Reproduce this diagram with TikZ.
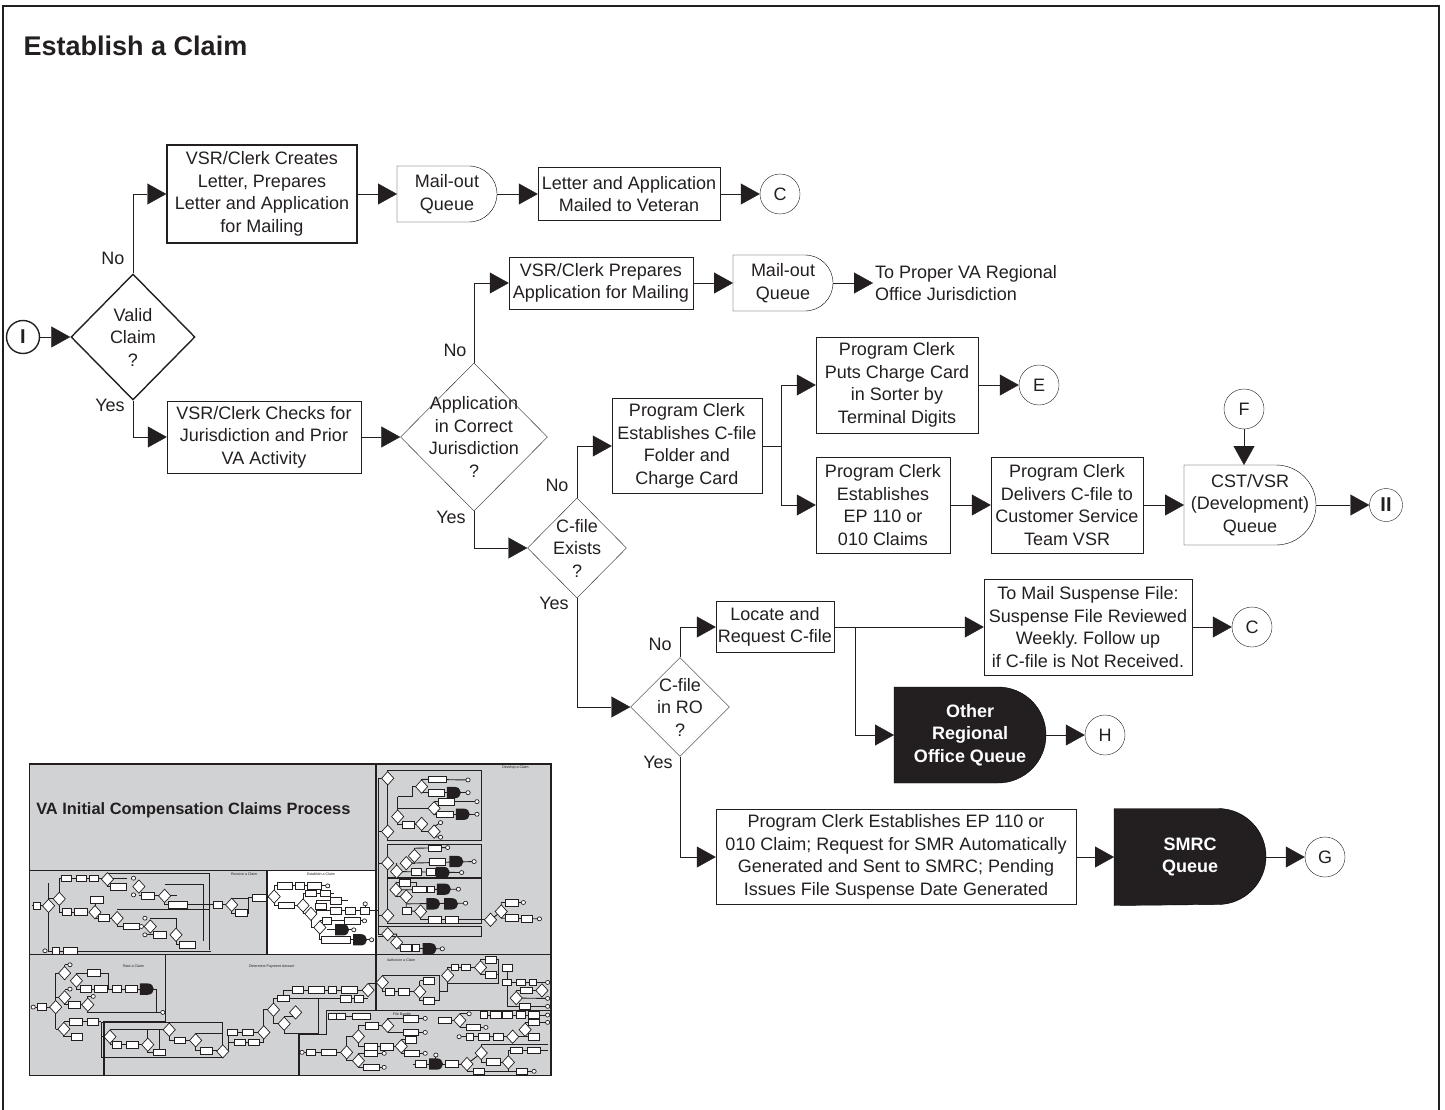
\documentclass[tikz,border=0pt]{standalone}
\usepackage{fontspec}
\setmainfont{Liberation Sans}
\usetikzlibrary{arrows.meta,shapes.geometric}
\definecolor{ink}{RGB}{35,31,32}
\definecolor{panelgray}{RGB}{209,210,212}
\pgfdeclarelayer{bg}
\pgfsetlayers{bg,main}
\frenchspacing

% D-shaped queue behind a named node: #1 fill, #2 node, #3 radius
\newcommand{\queueoutline}[3]{%
  \begin{pgfonlayer}{bg}
    \draw [fill=#1, line join=miter] (#2.north west) -- ([xshift=-#3pt]#2.north east)
      arc [start angle=90, end angle=-90, radius=#3pt] -- (#2.south west) -- cycle;
  \end{pgfonlayer}}
% tiny glyphs for the overview map
\newcommand{\mapbox}[3]{\draw [mappart] ({#1-#3/2},{#2-10}) rectangle ({#1+#3/2},{#2+10});}
\newcommand{\mapdia}[2]{\draw [mappart] ({#1-17},#2) -- (#1,{#2-20}) -- ({#1+17},#2) -- (#1,{#2+20}) -- cycle;}
\newcommand{\mapqueue}[2]{\fill [ink] ({#1-22},{#2-17}) -- (#1,{#2-17}) arc [start angle=-90, end angle=90, x radius=17, y radius=17] -- ({#1-22},{#2+17}) -- cycle;}
\newcommand{\mapdot}[2]{\draw [mappart] (#1,#2) circle [x radius=6, y radius=6];}

\tikzset{
  stepbox/.style={draw, rectangle, align=center, inner sep=0pt},
  decision/.style={draw, diamond, inner sep=0pt},
  connector/.style={draw, circle, inner sep=0pt, minimum size=40pt},
  roman/.style={connector, minimum size=33pt, font=\fontsize{20}{20}\selectfont\bfseries},
  queue/.style={rectangle, align=center, inner sep=0pt, outer sep=0pt},
  darkqueue/.style={queue, text=white, font=\fontsize{18}{22.5}\selectfont\bfseries},
  answer/.style={inner sep=0pt},
  mappart/.style={draw=ink, fill=white, line width=0.7pt},
  mapline/.style={draw=ink, line width=0.9pt},
  mappanel/.style={draw=ink, line width=1.5pt},
  maplabel/.style={font=\fontsize{3.6}{4}\selectfont, inner sep=0pt},
}

\begin{document}
\begin{tikzpicture}[x=1pt, y=-1pt, line width=1.4pt, color=ink,
  font=\fontsize{18}{22.5}\selectfont, >={Triangle[length=19pt,width=21pt]}]
\useasboundingbox (0,0) rectangle (1445,1110);
\draw [line width=1.8pt] (3,1110) -- (3,6) -- (1439,6) -- (1439,1110);
\node [anchor=base west, inner sep=0pt, font=\fontsize{27}{30}\selectfont\bfseries] (title) at (23,56) {Establish a Claim};

% valid claim
\node [roman] (start) at (23,337) {I};
\node [decision, minimum width=124pt, minimum height=126pt] (valid) at (133,337) {};
\node [align=center] at (valid) {Valid\\Claim\\?};
\node [answer] at (113,258) {No};
\node [answer] at (110,405) {Yes};

\node [stepbox, minimum width=190pt, minimum height=98pt] (creates) at (262,194) {VSR/Clerk Creates\\Letter, Prepares\\Letter and Application\\for Mailing};
\node [queue, minimum width=100pt, minimum height=56pt] (mailone) at (447,194) {Mail-out\\Queue};
\queueoutline{none}{mailone}{28}
\node [stepbox, minimum width=182pt, minimum height=53pt] (mailed) at (629,194) {Letter and Application\\Mailed to Veteran};
\node [connector] (cone) at (780,194) {C};

% jurisdiction
\node [stepbox, minimum width=194pt, minimum height=72pt] (checks) at (264,437) {VSR/Clerk Checks for\\Jurisdiction and Prior\\VA Activity};
\node [decision, minimum width=147pt, minimum height=148pt] (juris) at (474,437) {};
\node [align=center] at (juris) {Application\\in Correct\\Jurisdiction\\?};
\node [answer] at (455,350) {No};
\node [answer] at (451,517) {Yes};
\node [stepbox, minimum width=184pt, minimum height=52pt] (prepares) at (601,283) {VSR/Clerk Prepares\\Application for Mailing};
\node [queue, minimum width=100pt, minimum height=56pt] (mailtwo) at (783,283) {Mail-out\\Queue};
\queueoutline{none}{mailtwo}{28}
\node [anchor=west, align=left, inner sep=2pt] (proper) at (873,283) {To Proper VA Regional\\Office Jurisdiction};

% c-file exists
\node [decision, minimum width=99pt, minimum height=100pt] (exists) at (577,548) {};
\node [align=center] at (exists) {C-file\\Exists\\?};
\node [answer] at (557,485) {No};
\node [answer] at (554,603) {Yes};
\node [stepbox, minimum width=150pt, minimum height=95pt] (folder) at (687,446) {Program Clerk\\Establishes C-file\\Folder and\\Charge Card};
\coordinate (fsplit) at (781,446);
\node [stepbox, minimum width=162pt, minimum height=96pt] (sorter) at (897,385) {Program Clerk\\Puts Charge Card\\in Sorter by\\Terminal Digits};
\node [connector] (ce) at (1039,385) {E};
\node [stepbox, minimum width=134pt, minimum height=96pt] (epclaims) at (883,505) {Program Clerk\\Establishes\\EP 110 or\\010 Claims};
\node [stepbox, minimum width=152pt, minimum height=96pt] (delivers) at (1067,505) {Program Clerk\\Delivers C-file to\\Customer Service\\Team VSR};
\node [queue, minimum width=132pt, minimum height=80pt] (devq) at (1250,505) {CST/VSR\\(Development)\\Queue};
\queueoutline{none}{devq}{40}
\node [connector] (cf) at (1244,409) {F};
\node [roman] (finish) at (1386,505) {II};

% c-file in RO
\node [decision, minimum width=99pt, minimum height=99pt] (inro) at (680,707) {};
\node [align=center] at (inro) {C-file\\in RO\\?};
\node [answer] at (660,644) {No};
\node [answer] at (658,762) {Yes};
\node [stepbox, minimum width=118pt, minimum height=51pt] (locate) at (775,627) {Locate and\\Request C-file};
\coordinate (lsplit) at (855,627);
\node [stepbox, minimum width=208pt, minimum height=96pt] (suspense) at (1088,627) {To Mail Suspense File:\\Suspense File Reviewed\\Weekly. Follow up\\if C-file is Not Received.};
\node [connector] (ctwo) at (1252,627) {C};
\node [darkqueue, minimum width=152pt, minimum height=96pt] (otherro) at (970,735) {Other\\Regional\\Office Queue};
\queueoutline{ink}{otherro}{48}
\node [connector] (ch) at (1105,735) {H};
\node [stepbox, minimum width=360pt, minimum height=95pt] (epsmr) at (896,857) {Program Clerk Establishes EP 110 or\\010 Claim; Request for SMR Automatically\\Generated and Sent to SMRC; Pending\\Issues File Suspense Date Generated};
\node [darkqueue, minimum width=152pt, minimum height=97pt] (smrc) at (1190,857) {SMRC\\Queue};
\queueoutline{ink}{smrc}{48}
\node [connector] (cg) at (1325,857) {G};

% connectors
\draw [->] (start) -- (valid);
\draw [->] (valid.north) |- (creates.west);
\draw [->] (valid.south) |- (checks.west);
\draw [->] (creates) -- (mailone);
\draw [->] (mailone) -- (mailed);
\draw [->] (mailed) -- (cone);
\draw [->] (checks) -- (juris);
\draw [->] (juris.north) |- (prepares.west);
\draw [->] (prepares) -- (mailtwo);
\draw [->] (mailtwo) -- (proper);
\draw [->] (juris.south) |- (exists.west);
\draw [->] (exists.north) |- (folder.west);
\draw (folder) -- (fsplit);
\draw [->] (fsplit) |- (sorter.west);
\draw [->] (fsplit) |- (epclaims.west);
\draw [->] (sorter) -- (ce);
\draw [->] (epclaims) -- (delivers);
\draw [->] (delivers) -- (devq);
\draw [->] (cf) -- (cf |- devq.north);
\draw [->] (devq) -- (finish);
\draw [->] (exists.south) |- (inro.west);
\draw [->] (inro.north) |- (locate.west);
\draw [->] (locate) -- (suspense);
\draw [->] (lsplit) |- (otherro.west);
\draw [->] (suspense) -- (ctwo);
\draw [->] (otherro) -- (ch);
\draw [->] (inro.south) |- (epsmr.west);
\draw [->] (epsmr) -- (smrc);
\draw [->] (smrc) -- (cg);

% overview map
\begin{scope}[shift={(20,750)}, xscale=0.357, yscale=0.333]
  \fill [panelgray] (27,42) rectangle (1487,978);
  \fill [white] (692,362) rectangle (997,613);
  \node [anchor=base west, inner sep=0pt, font=\fontsize{16.4}{17}\selectfont\bfseries] (overview) at (45,195) {VA Initial Compensation Claims Process};
  \node [maplabel] at (1388,52) {Develop a Claim};
  \node [maplabel] at (628,374) {Receive a Claim};
  \node [maplabel] at (843,374) {Establish a Claim};
  \node [maplabel] at (318,650) {Rate a Claim};
  \node [maplabel] at (705,650) {Determine Payment Amount};
  \node [maplabel] at (1068,630) {Authorize a Claim};
  \node [maplabel] at (1070,792) {File Bundle};

  % receive
  \draw [mapline] (35,468) -- (80,468);
  \draw [mapline] (80,400) -- (80,605) -- (535,605);
  \draw [mapline] (80,447) -- (110,447);
  \draw [mapline] (110,385) -- (110,487) -- (190,487);
  \draw [mapline] (110,385) -- (300,385);
  \draw [mapline] (245,385) -- (245,410) -- (300,410);
  \draw [mapline] (245,372) -- (530,372) -- (530,600);
  \draw [mapline] (318,410) -- (333,410);
  \draw [mapline] (333,438) -- (440,438);
  \draw [mapline] (405,405) -- (515,405) -- (515,575);
  \draw [mapline] (405,438) -- (405,465) -- (545,465);
  \draw [mapline] (210,450) -- (210,505) -- (272,505);
  \draw [mapline] (272,480) -- (530,480);
  \draw [mapline] (272,505) -- (272,530) -- (340,530);
  \draw [mapline] (365,505) -- (437,505) -- (437,585) -- (470,585);
  \draw [mapline] (350,555) -- (392,555);
  \draw [mapline] (565,465) -- (593,465) -- (593,445) -- (640,445);
  \draw [mapline] (593,465) -- (593,490) -- (640,490) -- (640,443) -- (692,443);
  \foreach \X/\Y/\W in {47/468/22, 130/385/28, 172/385/30, 208/385/25, 275/410/45, 358/438/35, 442/465/55, 130/487/25, 170/487/35, 215/450/35, 235/505/30, 312/530/45, 392/555/35, 470/585/45, 100/603/20, 142/603/40, 555/465/25, 620/490/35, 672/443/40}
    {\mapbox{\X}{\Y}{\W}}
  \foreach \X/\Y in {80/468, 110/447, 245/388, 333/410, 405/438, 210/487, 272/505, 365/530, 437/555, 593/465}
    {\mapdia{\X}{\Y}}
  \foreach \X/\Y in {318/385, 318/435, 340/530, 350/505, 350/555, 70/603}
    {\mapdot{\X}{\Y}}

  % establish
  \draw [mapline] (692,443) -- (712,440);
  \draw [mapline] (712,408) -- (712,467) -- (793,467);
  \draw [mapline] (712,408) -- (862,408);
  \draw [mapline] (793,430) -- (793,492) -- (815,492);
  \draw [mapline] (793,430) -- (880,430);
  \draw [mapline] (815,492) -- (830,492) -- (830,453) -- (920,453);
  \draw [mapline] (830,483) -- (997,483);
  \draw [mapline] (967,462) -- (967,483);
  \draw [mapline] (815,492) -- (815,533) -- (840,533);
  \draw [mapline] (840,513) -- (965,513);
  \draw [mapline] (840,513) -- (840,570) -- (985,570);
  \draw [mapline] (860,540) -- (935,540);
  \foreach \X/\Y/\W in {742/408/40, 785/408/25, 825/408/40, 745/467/45, 815/430/30, 855/430/30, 843/470/30, 885/453/30, 885/483/30, 925/483/30, 965/483/25, 860/513/25, 930/513/45, 885/570/80}
    {\mapbox{\X}{\Y}{\W}}
  \foreach \X/\Y in {712/440, 793/467, 815/492, 840/533}
    {\mapdia{\X}{\Y}}
  \mapqueue{905}{540}
  \mapqueue{955}{570}
  \foreach \X/\Y in {862/408, 967/462, 985/570, 935/540, 965/513}
    {\mapdot{\X}{\Y}}

  % develop
  \draw [mapline] (1030,60) rectangle (1293,273);
  \draw [mapline] (1030,283) rectangle (1293,383);
  \draw [mapline] (1030,385) rectangle (1293,520);
  \draw [mapline] (1003,530) -- (1293,530) -- (1293,560) -- (1003,560);
  \draw [mapline] (997,483) -- (1003,483);
  \draw [mapline] (1003,85) -- (1003,553);
  \foreach \Y in {85, 245, 340, 497, 553}
    {\draw [mapline] (1003,\Y) -- (1030,\Y);}
  \draw [mapline] (1125,88) -- (1255,90);
  \draw [mapline] (1125,88) -- (1125,128) -- (1255,128);
  \draw [mapline] (1160,155) -- (1280,155);
  \draw [mapline] (1160,155) -- (1160,193) -- (1280,193);
  \draw [mapline] (1058,175) -- (1160,175);
  \draw [mapline] (1058,140) -- (1058,225) -- (1125,225) -- (1125,245) -- (1160,245);
  \draw [mapline] (1058,140) -- (1100,140) -- (1100,110) -- (1125,110);
  \draw [mapline] (1160,230) -- (1178,218);
  \draw [mapline] (1160,260) -- (1178,262);
  \draw [mapline] (1105,295) -- (1198,293);
  \draw [mapline] (1105,295) -- (1105,340) -- (1082,340);
  \draw [mapline] (1082,340) -- (1272,335);
  \draw [mapline] (1055,340) -- (1055,365) -- (1237,368);
  \draw [mapline] (1053,398) -- (1110,398) -- (1110,418);
  \draw [mapline] (1053,398) -- (1053,440) -- (1082,440) -- (1082,483) -- (1122,485);
  \draw [mapline] (1053,420) -- (1228,418);
  \draw [mapline] (1082,462) -- (1248,460);
  \draw [mapline] (1122,485) -- (1122,510) -- (1318,510);
  \draw [mapline] (1318,510) -- (1348,485);
  \draw [mapline] (1348,458) -- (1348,505) -- (1455,507);
  \draw [mapline] (1348,458) -- (1410,458);
  \draw [mapline] (1030,553) -- (1055,553) -- (1055,595) -- (1183,597);
  \foreach \X/\Y/\W in {1170/88/50, 1165/128/45, 1195/155/45, 1190/193/45, 1088/225/35, 1162/295/35, 1170/335/45, 1110/365/30, 1150/365/25, 1078/398/30, 1118/418/40, 1150/418/20, 1083/483/25, 1162/510/35, 1210/510/35, 1378/458/35, 1378/505/35, 1420/507/30, 1080/595/30, 1110/595/20}
    {\mapbox{\X}{\Y}{\W}}
  \foreach \X/\Y in {1030/85, 1030/245, 1030/340, 1030/497, 1030/553, 1125/110, 1160/175, 1058/200, 1125/222, 1160/245, 1105/318, 1082/340, 1055/365, 1053/420, 1082/440, 1122/485, 1318/510, 1348/485, 1055/578}
    {\mapdia{\X}{\Y}}
  \foreach \X/\Y in {1218/128, 1243/193, 1225/335, 1187/368, 1190/418, 1160/462, 1210/462, 1150/597}
    {\mapqueue{\X}{\Y}}
  \foreach \X/\Y in {1255/90, 1255/128, 1280/155, 1280/193, 1178/218, 1178/262, 1198/293, 1272/335, 1237/368, 1228/418, 1248/460, 1410/458, 1455/507, 1183/597}
    {\mapdot{\X}{\Y}}

  % rate
  \draw [mapline] (37,772) -- (100,772);
  \draw [mapline] (100,670) -- (100,838);
  \draw [mapline] (100,670) -- (125,670);
  \draw [mapline] (100,743) -- (125,743);
  \draw [mapline] (100,838) -- (123,838);
  \draw [mapline] (125,645) -- (140,645);
  \draw [mapline] (125,645) -- (125,670);
  \draw [mapline] (158,670) -- (248,670) -- (248,718);
  \draw [mapline] (158,670) -- (158,718) -- (383,718) -- (383,788) -- (400,788);
  \draw [mapline] (125,718) -- (140,718);
  \draw [mapline] (125,743) -- (125,765) -- (190,765);
  \draw [mapline] (190,740) -- (205,740);
  \draw [mapline] (190,740) -- (190,788) -- (383,788);
  \draw [mapline] (123,816) -- (228,816);
  \draw [mapline] (123,816) -- (123,861) -- (160,861);
  \foreach \X/\Y/\W in {60/772/25, 207/670/35, 185/718/30, 227/718/35, 270/718/25, 312/718/35, 152/765/35, 157/816/35, 204/816/30, 160/861/30}
    {\mapbox{\X}{\Y}{\W}}
  \foreach \X/\Y in {100/772, 125/670, 158/693, 125/743, 190/765, 123/838}
    {\mapdia{\X}{\Y}}
  \mapqueue{358}{718}
  \foreach \X/\Y in {37/772, 140/645, 140/718, 205/740, 400/788}
    {\mapdot{\X}{\Y}}

  % determine payment
  \draw [mapline] (228,817) rectangle (568,923);
  \draw [mapline] (228,861) -- (252,861);
  \draw [mapline] (252,840) -- (252,885) -- (358,885);
  \draw [mapline] (252,840) -- (418,840);
  \draw [mapline] (358,840) -- (358,908) -- (390,908);
  \draw [mapline] (390,840) -- (390,908);
  \draw [mapline] (418,840) -- (418,872) -- (492,872);
  \draw [mapline] (492,850) -- (568,850) -- (568,905);
  \draw [mapline] (492,850) -- (492,903) -- (568,903);
  \draw [mapline] (568,905) -- (583,905) -- (583,848) -- (683,848);
  \draw [mapline] (583,878) -- (683,878) -- (683,848);
  \draw [mapline] (683,848) -- (683,780) -- (710,780);
  \draw [mapline] (710,746) -- (710,822) -- (740,822);
  \draw [mapline] (710,746) -- (975,746);
  \draw [mapline] (738,721) -- (975,721);
  \draw [mapline] (738,721) -- (738,746);
  \draw [mapline] (740,800) -- (772,800) -- (772,788);
  \draw [mapline] (740,822) -- (740,850) -- (835,850) -- (835,746);
  \draw [mapline] (975,721) -- (975,700) -- (997,700);
  \foreach \X/\Y/\W in {272/885/25, 315/885/35, 390/908/35, 447/872/30, 522/903/35, 595/848/30, 638/848/30, 615/878/30, 655/878/30, 738/746/35, 778/721/30, 830/721/45, 875/721/25, 922/721/45, 912/747/30, 950/747/25}
    {\mapbox{\X}{\Y}{\W}}
  \foreach \X/\Y in {252/861, 358/885, 418/840, 492/872, 568/905, 683/848, 710/780, 772/788, 740/822, 975/721}
    {\mapdia{\X}{\Y}}

  % authorize
  \draw [mapline] (997,698) -- (1015,698);
  \draw [mapline] (1015,676) -- (1015,726) -- (1120,726);
  \draw [mapline] (1015,676) -- (1175,676) -- (1175,753);
  \draw [mapline] (1120,693) -- (1120,753) -- (1175,753);
  \draw [mapline] (1120,693) -- (1145,693);
  \draw [mapline] (1175,726) -- (1198,726) -- (1198,653) -- (1290,653);
  \draw [mapline] (1198,700) -- (1340,700) -- (1340,630) -- (1290,630) -- (1290,675) -- (1340,675);
  \draw [mapline] (1365,655) -- (1365,770) -- (1478,770);
  \draw [mapline] (1365,698) -- (1478,698);
  \draw [mapline] (1390,722) -- (1478,722);
  \draw [mapline] (1390,745) -- (1478,746);
  \foreach \X/\Y/\W in {1035/726/25, 1075/726/30, 1145/693/30, 1145/753/30, 1218/653/20, 1250/653/25, 1318/630/30, 1318/675/30, 1365/655/30, 1365/698/25, 1402/698/25, 1437/698/20, 1418/722/35, 1415/770/30}
    {\mapbox{\X}{\Y}{\W}}
  \foreach \X/\Y in {1015/698, 1120/726, 1198/677, 1290/653, 1390/745, 1462/722}
    {\mapdia{\X}{\Y}}
  \foreach \X/\Y in {1478/698, 1478/746, 1478/770}
    {\mapdot{\X}{\Y}}

  % file bundle
  \draw [mapline] (790,908) -- (915,908);
  \draw [mapline] (915,860) -- (915,933);
  \draw [mapline] (915,860) -- (948,860);
  \draw [mapline] (915,933) -- (948,933);
  \draw [mapline] (948,828) -- (948,891) -- (1068,891);
  \draw [mapline] (948,828) -- (1030,828);
  \draw [mapline] (1030,806) -- (1030,848);
  \draw [mapline] (1030,806) -- (1135,806);
  \draw [mapline] (1030,848) -- (1135,848);
  \draw [mapline] (1068,870) -- (1068,911);
  \draw [mapline] (1068,870) -- (1095,870);
  \draw [mapline] (1068,911) -- (1135,911);
  \draw [mapline] (948,933) -- (948,953) -- (1020,953);
  \draw [mapline] (948,911) -- (1020,911);
  \draw [mapline] (875,800) -- (975,800);
  \draw [mapline] (1190,812) -- (1232,812);
  \draw [mapline] (1232,792) -- (1232,833);
  \draw [mapline] (1232,792) -- (1258,792);
  \draw [mapline] (1232,833) -- (1305,833);
  \draw [mapline] (1300,796) -- (1478,796);
  \draw [mapline] (1440,796) -- (1440,818) -- (1478,818);
  \draw [mapline] (1415,818) -- (1415,861);
  \draw [mapline] (1415,818) -- (1440,818);
  \draw [mapline] (1230,861) -- (1440,861);
  \draw [mapline] (1292,885) -- (1478,885);
  \draw [mapline] (1292,885) -- (1292,937) -- (1368,937);
  \draw [mapline] (1368,902) -- (1368,965);
  \draw [mapline] (1368,902) -- (1478,902);
  \draw [mapline] (1368,965) -- (1440,965);
  \draw [mapline] (1100,943) -- (1252,943);
  \draw [mapline] (1252,943) -- (1252,965) -- (1405,965);
  \draw [mapline] (1252,943) -- (1292,910);
  \draw [mapline] (1165,916) -- (1165,930);
  \foreach \X/\Y/\W in {875/800/20, 900/800/25, 955/800/50, 985/828/35, 1095/808/40, 1095/848/40, 1095/870/30, 1098/911/40, 815/908/25, 865/908/40, 983/891/35, 1028/891/35, 983/911/35, 985/953/45, 1190/812/35, 1270/833/40, 1300/796/20, 1333/796/30, 1365/796/30, 1402/796/25, 1440/796/30, 1440/818/30, 1440/861/30, 1340/861/30, 1300/861/30, 1260/861/20, 1390/902/35, 1440/902/35, 1325/937/40, 1210/943/35, 1122/943/30, 1285/965/30, 1405/965/30}
    {\mapbox{\X}{\Y}{\W}}
  \foreach \X/\Y in {1030/828, 948/860, 915/908, 1068/890, 948/933, 1232/812, 1415/840, 1380/861, 1292/910, 1368/938, 1252/943}
    {\mapdia{\X}{\Y}}
  \mapqueue{1168}{943}
  \foreach \X/\Y in {1135/806, 1135/848, 1135/911, 790/908, 1020/911, 1020/953, 1305/833, 1258/792, 1230/861, 1440/965, 1165/916, 1478/796, 1478/818}
    {\mapdot{\X}{\Y}}

  % panel borders
  \draw [mappanel] (27,42) rectangle (1487,978);
  \draw [mappanel] (27,362) -- (997,362);
  \draw [mappanel] (997,42) -- (997,783);
  \draw [mappanel] (692,362) -- (692,614);
  \draw [mappanel] (27,614) -- (1487,614);
  \draw [mappanel] (407,614) -- (407,815) -- (235,815) -- (235,978);
  \draw [mappanel] (858,783) -- (1487,783);
  \draw [mappanel] (858,783) -- (858,855) -- (782,855) -- (782,978);
\end{scope}
\end{tikzpicture}
\end{document}
